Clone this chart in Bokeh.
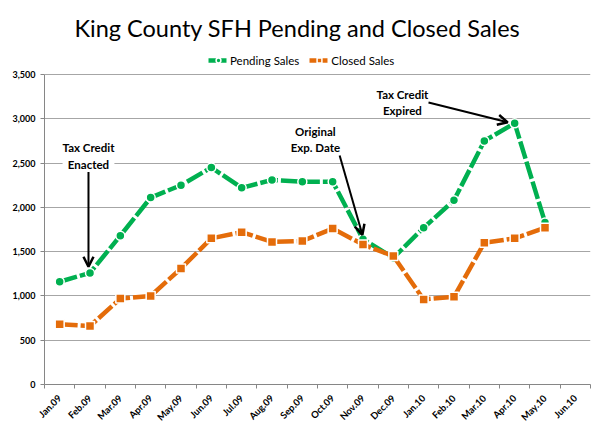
import math
from bokeh.plotting import figure
from bokeh.models import (ColumnDataSource, FixedTicker, NumeralTickFormatter, Label,
                          Arrow, OpenHead, Legend, LegendItem, Range1d)
from bokeh.embed import file_html
from bokeh.resources import INLINE

months = ["Jan.09", "Feb.09", "Mar.09", "Apr.09", "May.09", "Jun.09", "Jul.09", "Aug.09",
          "Sep.09", "Oct.09", "Nov.09", "Dec.09", "Jan.10", "Feb.10", "Mar.10", "Apr.10",
          "May.10", "Jun.10"]
pending = [1160, 1260, 1680, 2110, 2250, 2450, 2220, 2310, 2290, 2290, 1640, 1430,
           1770, 2080, 2750, 2950, 1830]
closed = [680, 660, 970, 1000, 1310, 1650, 1720, 1610, 1620, 1760, 1580, 1450,
          960, 990, 1600, 1650, 1770]
y_ticks = [0, 500, 1000, 1500, 2000, 2500, 3000, 3500]
y_max = 3500

FONT = "Lato"
GREEN = "#00B050"
ORANGE = "#E46C0A"

# frame geometry (pixels)
W, H = 600, 435
LEFT, RIGHT, TOP, BOTTOM = 44, 10, 48, 51
FRAME_H = H - TOP - BOTTOM
AXIS_H = 310  # pixels spanned by 0..3500
y_top = y_max * FRAME_H / AXIS_H

xi = list(range(len(months)))
src_p = ColumnDataSource(dict(x=xi[:len(pending)], y=pending))
src_c = ColumnDataSource(dict(x=xi[:len(closed)], y=closed))

p = figure(width=W, height=H, output_backend="svg", toolbar_location=None,
           x_range=Range1d(-0.5, len(months) - 0.5), y_range=Range1d(0, y_top),
           min_border_left=LEFT, min_border_right=RIGHT, min_border_top=TOP,
           min_border_bottom=BOTTOM,
           title="King County SFH Pending and Closed Sales")
p.outline_line_color = None
p.background_fill_color = "white"
p.border_fill_color = "white"

p.title.align = "left"
p.title.offset = 30
p.title.standoff = 14
p.title.text_font = FONT
p.title.text_font_size = "23.5px"
p.title.text_font_style = "normal"
p.title.text_color = "#000000"

# axes
p.xaxis.ticker = FixedTicker(ticks=xi, minor_ticks=[i - 0.5 for i in range(len(months) + 1)])
p.xaxis.major_label_overrides = {i: m for i, m in enumerate(months)}
p.xaxis.major_label_orientation = math.pi / 4
p.xaxis.major_label_standoff = 8
p.xaxis.major_tick_out = 0
p.xaxis.major_tick_in = 0
p.xaxis.minor_tick_out = 4
p.xaxis.minor_tick_in = 0
p.yaxis.ticker = FixedTicker(ticks=y_ticks)
p.yaxis.bounds = (0, y_max)
p.yaxis.formatter = NumeralTickFormatter(format="0,0")
p.yaxis.major_tick_out = 4
p.yaxis.major_tick_in = 0
for ax in (p.xaxis, p.yaxis):
    ax.axis_line_color = "#868686"
    ax.major_tick_line_color = "#868686"
    ax.minor_tick_line_color = "#868686"
    ax.major_label_text_font = FONT
    ax.major_label_text_font_style = "bold"
    ax.major_label_text_font_size = "9px"
    ax.major_label_text_color = "#000000"
p.xaxis.major_label_text_font_size = "9.5px"
p.yaxis.minor_tick_line_color = None
p.xgrid.grid_line_color = None
p.ygrid.ticker = FixedTicker(ticks=y_ticks)
p.ygrid.grid_line_color = "#A6A6A6"
p.ygrid.grid_line_width = 1

# series
lp = p.line("x", "y", source=src_p, line_color=GREEN, line_width=4.5, line_dash="18 3")
mp = p.scatter("x", "y", source=src_p, marker="circle", size=9, fill_color=GREEN,
               line_color="white", line_width=1.5)
lc = p.line("x", "y", source=src_c, line_color=ORANGE, line_width=4.5, line_dash="18 3")
mc = p.scatter("x", "y", source=src_c, marker="square", size=9, fill_color=ORANGE,
               line_color="white", line_width=1.5)

legend = Legend(items=[LegendItem(label="Pending Sales", renderers=[lp, mp]),
                       LegendItem(label="Closed Sales", renderers=[lc, mc])],
                orientation="horizontal", location=(164, FRAME_H - (60 - TOP) - 7),
                label_text_font=FONT, label_text_font_size="11.5px",
                label_text_color="#000000",
                glyph_width=20, glyph_height=12, spacing=10, padding=0, margin=0,
                border_line_color=None, background_fill_alpha=0, label_standoff=2,
                label_height=14)
p.add_layout(legend, "center")

# annotations
def note(x, y, text):
    p.add_layout(Label(x=x, y=y, text=text, text_align="center", text_baseline="middle",
                       text_font=FONT, text_font_style="bold", text_font_size="11.5px",
                       text_color="#000000",
                       background_fill_color="white", text_line_height=1.3))

note(0.95, 2580, "Tax Credit\nEnacted")
note(8.43, 2766, "Original\nExp. Date")
note(11.3, 3184, "Tax Credit\nExpired")

def arrow(x0, y0, x1, y1):
    p.add_layout(Arrow(x_start=x0, y_start=y0, x_end=x1, y_end=y1, line_width=2,
                       line_color="black",
                       end=OpenHead(size=10, line_width=2.5, line_color="black")))

arrow(0.95, 2400, 0.95, 1330)
arrow(9.23, 2586, 9.98, 1690)
arrow(12.16, 3184, 14.77, 2960)

open("out.html", "w").write(file_html(p, INLINE))
